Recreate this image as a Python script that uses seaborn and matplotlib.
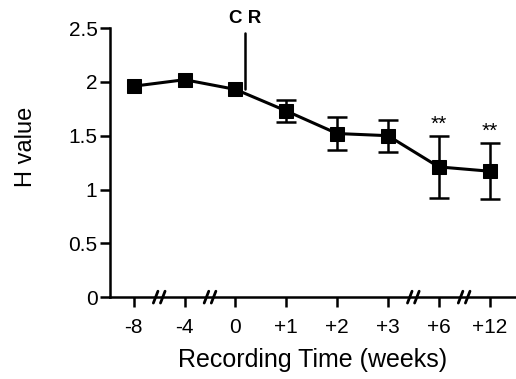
import matplotlib
matplotlib.use("Agg")
import matplotlib.pyplot as plt
import matplotlib.transforms as mtransforms
import seaborn as sns
import pandas as pd
import numpy as np

categories = ["-8", "-4", "0", "+1", "+2", "+3", "+6", "+12"]
h_values = [1.96, 2.02, 1.93, 1.73, 1.52, 1.50, 1.21, 1.17]
h_errors = [0.0, 0.0, 0.0, 0.10, 0.15, 0.15, 0.29, 0.26]
significant = ["", "", "", "", "", "", "**", "**"]
break_after = ["-8", "-4", "+3", "+6"]
yticks = [0, 0.5, 1, 1.5, 2, 2.5]
ytick_labels = ["0", "0.5", "1", "1.5", "2", "2.5"]
cr_top = 2.45

sns.set_theme(style="ticks")
plt.rcParams["font.family"] = ["Liberation Sans", "DejaVu Sans"]
plt.rcParams["text.color"] = "black"
plt.rcParams["axes.labelcolor"] = "black"
plt.rcParams["xtick.color"] = "black"
plt.rcParams["ytick.color"] = "black"

df = pd.DataFrame({"pos": np.arange(len(categories)), "H": h_values, "err": h_errors})
df_err = df[df["err"] > 0]

fig = plt.figure(figsize=(5.16, 3.79), dpi=100)
ax = fig.add_axes([0.213, 0.216, 0.785, 0.71])

ax.errorbar(df_err["pos"], df_err["H"], yerr=df_err["err"], fmt="none", ecolor="black",
            elinewidth=1.8, capsize=7, capthick=1.8, zorder=2)
sns.lineplot(data=df, x="pos", y="H", ax=ax, color="black", linewidth=2.2,
             marker="s", markersize=10, markeredgecolor="black", zorder=3)

for i, s in enumerate(significant):
    if s:
        ax.text(i, h_values[i] + h_errors[i] + 0.02, s, ha="center", va="bottom",
                fontsize=15, color="black")

# CR marker at week 0
i0 = categories.index("0")
ax.plot([i0 + 0.19, i0 + 0.19], [h_values[i0], cr_top], color="black",
        linewidth=1.8, zorder=2)
ax.text(i0 + 0.19, 2.51, "C R", ha="center", va="bottom", fontsize=13.5,
        fontweight="bold", color="black")

# axis breaks
trans = mtransforms.blended_transform_factory(ax.transData, ax.transAxes)
for c in break_after:
    xb = categories.index(c) + 0.5
    for dx in (-0.07, 0.07):
        ax.plot([xb + dx - 0.045, xb + dx + 0.045], [-0.022, 0.022], transform=trans,
                color="black", linewidth=2, clip_on=False, zorder=5)

ax.set_xlim(-0.47, 7.5)
ax.set_ylim(0, 2.5)
ax.set_xticks(range(len(categories)))
ax.set_xticklabels(categories, fontsize=15)
ax.set_yticks(yticks)
ax.set_yticklabels(ytick_labels, fontsize=15)
ax.set_xlabel("Recording Time (weeks)", fontsize=18, labelpad=8)
ax.set_ylabel("H value", fontsize=17)
ax.yaxis.set_label_coords(-0.18, 0.558)
ax.tick_params(axis="both", direction="out", length=7, width=1.8, color="black",
               labelcolor="black")
ax.tick_params(axis="x", pad=8)
ax.tick_params(axis="y", pad=2)
sns.despine(ax=ax)
for sp in ("left", "bottom"):
    ax.spines[sp].set_linewidth(1.8)
    ax.spines[sp].set_color("black")

fig.savefig("out.png", dpi=100)
